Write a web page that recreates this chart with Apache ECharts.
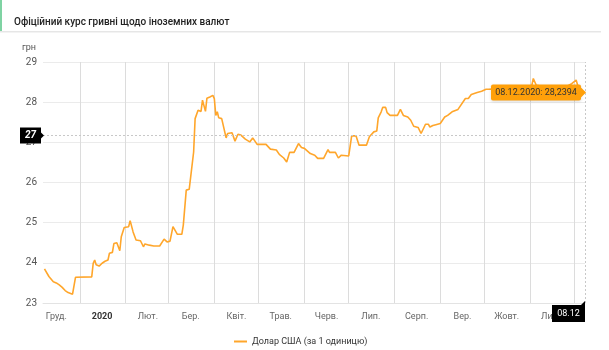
<!DOCTYPE html>
<html>
<head>
<meta charset="utf-8">
<script src="https://cdn.jsdelivr.net/npm/echarts@6/dist/echarts.min.js"></script>
<style>
html,body{margin:0;padding:0;background:#fff;}
#chart{width:609px;height:350px;}
</style>
</head>
<body>
<div id="chart"></div>
<script>
// ---- data ----
const titleText = 'Офіційний курс гривні щодо іноземних валют';
const seriesName = 'Долар США (за 1 одиницю)';
const unitLabel = 'грн';
const dates = [
 '2019-12-08','2019-12-09','2019-12-11','2019-12-12','2019-12-14','2019-12-16','2019-12-18','2019-12-20','2019-12-22','2019-12-24',
 '2019-12-27','2019-12-28','2019-12-29','2019-12-30','2020-01-09','2020-01-10','2020-01-11','2020-01-12','2020-01-14','2020-01-16',
 '2020-01-17','2020-01-18','2020-01-20','2020-01-21','2020-01-23','2020-01-24','2020-01-26','2020-01-27','2020-01-28','2020-01-29',
 '2020-01-31','2020-02-03','2020-02-04','2020-02-05','2020-02-06','2020-02-08','2020-02-11','2020-02-13','2020-02-14','2020-02-17',
 '2020-02-20','2020-02-21','2020-02-24','2020-02-27','2020-02-29','2020-03-02','2020-03-04','2020-03-05','2020-03-07','2020-03-10',
 '2020-03-11','2020-03-13','2020-03-15','2020-03-18','2020-03-19','2020-03-21','2020-03-23','2020-03-24','2020-03-26','2020-03-27',
 '2020-03-29','2020-03-31','2020-04-01','2020-04-02','2020-04-03','2020-04-04','2020-04-06','2020-04-09','2020-04-10','2020-04-13',
 '2020-04-15','2020-04-17','2020-04-19','2020-04-22','2020-04-25','2020-04-27','2020-04-30','2020-05-06','2020-05-09','2020-05-13',
 '2020-05-15','2020-05-18','2020-05-20','2020-05-22','2020-05-25','2020-05-28','2020-05-30','2020-06-01','2020-06-05','2020-06-08',
 '2020-06-10','2020-06-11','2020-06-14','2020-06-17','2020-06-18','2020-06-22','2020-06-24','2020-06-26','2020-07-01','2020-07-02',
 '2020-07-03','2020-07-06','2020-07-08','2020-07-13','2020-07-15','2020-07-18','2020-07-20','2020-07-21','2020-07-23','2020-07-24',
 '2020-07-26','2020-07-27','2020-07-29','2020-08-03','2020-08-05','2020-08-07','2020-08-10','2020-08-12','2020-08-14','2020-08-17',
 '2020-08-19','2020-08-22','2020-08-24','2020-08-25','2020-08-27','2020-08-28','2020-08-29','2020-09-01','2020-09-04','2020-09-06',
 '2020-09-09','2020-09-13','2020-09-14','2020-09-18','2020-09-20','2020-09-22','2020-09-26','2020-09-29','2020-10-02','2020-10-04',
 '2020-10-08','2020-10-15','2020-10-21','2020-10-28','2020-11-02','2020-11-03','2020-11-05','2020-11-11','2020-11-17','2020-11-24',
 '2020-11-29','2020-12-02','2020-12-04','2020-12-08'
];
const usdValues = [
 23.85,23.82,23.66,23.62,23.53,23.50,23.45,23.39,23.31,23.26,
 23.22,23.24,23.64,23.65,23.65,23.99,24.07,23.95,23.92,23.99,
 23.97,24.04,24.07,24.24,24.26,24.48,24.50,24.49,24.30,24.65,
 24.88,24.90,25.05,25.03,24.77,24.57,24.55,24.40,24.47,24.44,
 24.42,24.45,24.42,24.59,24.52,24.54,24.90,24.86,24.71,24.71,
 24.94,25.81,25.83,26.76,27.59,27.80,27.77,28.05,27.77,28.10,
 28.13,28.17,28.09,27.67,27.76,27.61,27.59,27.11,27.22,27.24,
 27.03,27.20,27.18,27.08,27.01,27.11,26.95,26.95,26.83,26.81,
 26.70,26.61,26.51,26.75,26.75,26.97,26.87,26.85,26.72,26.68,
 26.60,26.63,26.60,26.82,26.75,26.75,26.61,26.68,26.66,26.68,
 27.16,27.16,26.93,26.93,27.14,27.26,27.28,27.61,27.76,27.87,
 27.87,27.74,27.67,27.67,27.82,27.67,27.63,27.55,27.40,27.37,
 27.22,27.45,27.45,27.38,27.42,27.38,27.44,27.47,27.63,27.67,
 27.76,27.82,27.84,28.09,28.09,28.19,28.24,28.27,28.32,28.32,
 28.33,28.35,28.37,28.36,28.42,28.59,28.42,28.38,28.34,28.36,
 28.46,28.55,28.30,28.2394
];
const monthLabels = ['Груд.','2020','Лют.','Бер.','Квіт.','Трав.','Черв.','Лип.','Серп.','Вер.','Жовт.','Лист.'];
const monthLabelDates = ['2019-12-16','2020-01-16','2020-02-16','2020-03-16','2020-04-16','2020-05-16','2020-06-16','2020-07-16','2020-08-16','2020-09-16','2020-10-16','2020-11-16'];
const monthStarts = ['2020-01-01','2020-02-01','2020-03-01','2020-04-01','2020-05-01','2020-06-01','2020-07-01','2020-08-01','2020-09-01','2020-10-01','2020-11-01','2020-12-01'];
const xRange = ['2019-12-07','2020-12-08'];
const yMin = 23, yMax = 29, yStep = 1;
const crosshairY = 27.17;       // mouse position of the horizontal crosshair
const crosshairYLabel = '27';
const crosshairXLabel = '08.12';
const tooltipText = '08.12.2020: 28,2394';

// ---- helpers ----
function t(s){ const p = s.split('-'); return Date.UTC(+p[0], +p[1]-1, +p[2]); }
const seriesData = dates.map((d,i)=>[t(d), usdValues[i]]);
const labelTimes = monthLabelDates.map(t);
const lastPoint = seriesData[seriesData.length-1];

const lineColor = '#ffa62b';
const font = 'Roboto, "Noto Sans", sans-serif';
const fs = 9;

const chart = echarts.init(document.getElementById('chart'), null, {renderer:'canvas'});
const gridLeft = 43, gridRight = 24, gridTop = 62, gridBottom = 47;

chart.setOption({
  animation: false,
  backgroundColor: '#fff',
  textStyle: {fontFamily: font},
  title: {
    text: titleText, left: 9, top: 12,
    textStyle: {fontSize: 10, fontWeight: 500, color: '#222', fontFamily: font}
  },
  grid: {left: gridLeft, right: gridRight, top: gridTop, bottom: gridBottom, containLabel: false},
  legend: {
    data: [seriesName], left: 229, top: 332,
    icon: 'rect', itemWidth: 13, itemHeight: 2, itemGap: 6,
    textStyle: {fontSize: fs, color: '#333', fontFamily: font}
  },
  xAxis: {
    type: 'value', min: t(xRange[0]), max: t(xRange[1]), scale: true,
    axisLine: {show: true, lineStyle: {color: '#e3e3e3'}},
    axisTick: {show: false},
    splitLine: {show: false},
    axisLabel: {
      customValues: labelTimes, margin: 9, fontSize: fs, color: '#666', fontFamily: font,
      hideOverlap: false,
      formatter: function(v){
        const i = labelTimes.indexOf(v);
        const s = i >= 0 ? monthLabels[i] : '';
        return s === '2020' ? '{b|' + s + '}' : s;
      },
      rich: {b: {fontWeight: 'bold', color: '#333', fontSize: fs, fontFamily: font}}
    }
  },
  yAxis: {
    type: 'value', min: yMin, max: yMax, interval: yStep,
    axisLine: {show: false}, axisTick: {show: false},
    splitLine: {lineStyle: {color: '#ebebeb'}},
    axisLabel: {fontSize: 10, color: '#555', margin: 6, fontFamily: font}
  },
  series: [
    {
      // carrier for the monthly vertical grid lines (line itself invisible)
      name: 'monthGrid', type: 'line', data: seriesData, z: 1, silent: true,
      showSymbol: false, symbol: 'none',
      lineStyle: {opacity: 0, width: 0},
      markLine: {
        silent: true, z: 1, symbol: ['none','none'], label: {show: false},
        lineStyle: {type: 'solid', color: '#dcdcdc', width: 1},
        data: monthStarts.map(d => ({xAxis: t(d)}))
      }
    },
    {
      name: seriesName, type: 'line', data: seriesData, z: 3,
      showSymbol: false, symbol: 'none',
      lineStyle: {color: lineColor, width: 1.6},
      itemStyle: {color: lineColor},
      markLine: {
        silent: true, symbol: ['none','none'], label: {show: false},
        lineStyle: {type: [2,2], color: '#c8c8c8', width: 1},
        data: [{xAxis: lastPoint[0]}, {yAxis: crosshairY}]
      }
    }
  ]
});

// crosshair labels and tooltip placed from the chart's own scales
const pCross = chart.convertToPixel({gridIndex: 0}, [lastPoint[0], crosshairY]);
const pLast = chart.convertToPixel({gridIndex: 0}, lastPoint);
const px = pCross[0], py = pCross[1];
const bottomY = chart.convertToPixel({gridIndex: 0}, [lastPoint[0], yMin])[1];
const tipY = pLast[1];

chart.setOption({
  graphic: [
    {type: 'rect', left: 0, top: 0, z: 10, shape: {width: 2, height: 31}, style: {fill: '#7fd3a3'}},
    {type: 'rect', left: 0, top: 31, z: 10, shape: {width: 601, height: 1}, style: {fill: '#e6e6e6'}},
    {type: 'rect', left: 0, top: 32, z: 10, shape: {width: 601, height: 1}, style: {fill: '#f3f3f3'}},
    {type: 'text', left: 22, top: 43, z: 10, style: {text: unitLabel, fontSize: fs, fill: '#555', fontFamily: font}},
    // y crosshair label
    {type: 'rect', z: 20, shape: {x: gridLeft - 23, y: py - 8, width: 21, height: 16}, style: {fill: '#000'}},
    {type: 'polygon', z: 20, shape: {points: [[gridLeft - 3, py - 4], [gridLeft + 1, py], [gridLeft - 3, py + 4]]}, style: {fill: '#000'}},
    {type: 'text', z: 21, x: gridLeft - 12.5, y: py, style: {text: crosshairYLabel, fill: '#fff', fontSize: 10, fontWeight: 'bold', fontStyle: 'italic', align: 'center', verticalAlign: 'middle', fontFamily: font}},
    // x crosshair label
    {type: 'rect', z: 20, shape: {x: px - 33, y: bottomY + 2, width: 33, height: 17}, style: {fill: '#000'}},
    {type: 'polygon', z: 20, shape: {points: [[px - 4, bottomY + 2], [px, bottomY - 2], [px, bottomY + 2]]}, style: {fill: '#000'}},
    {type: 'text', z: 21, x: px - 16.5, y: bottomY + 10.5, style: {text: crosshairXLabel, fill: '#fff', fontSize: fs, align: 'center', verticalAlign: 'middle', fontFamily: font}},
    // tooltip
    {type: 'rect', z: 20, shape: {x: px - 94, y: tipY - 8, width: 90, height: 16, r: 2}, style: {fill: '#ffa00a', shadowBlur: 3, shadowColor: 'rgba(0,0,0,0.15)', shadowOffsetY: 1}},
    {type: 'polygon', z: 20, shape: {points: [[px - 4, tipY - 5], [px + 1, tipY], [px - 4, tipY + 5]]}, style: {fill: '#ffa00a'}},
    {type: 'text', z: 21, x: px - 49, y: tipY, style: {text: tooltipText, fill: '#333', fontSize: fs, align: 'center', verticalAlign: 'middle', fontFamily: font}}
  ]
});
</script>
</body>
</html>
